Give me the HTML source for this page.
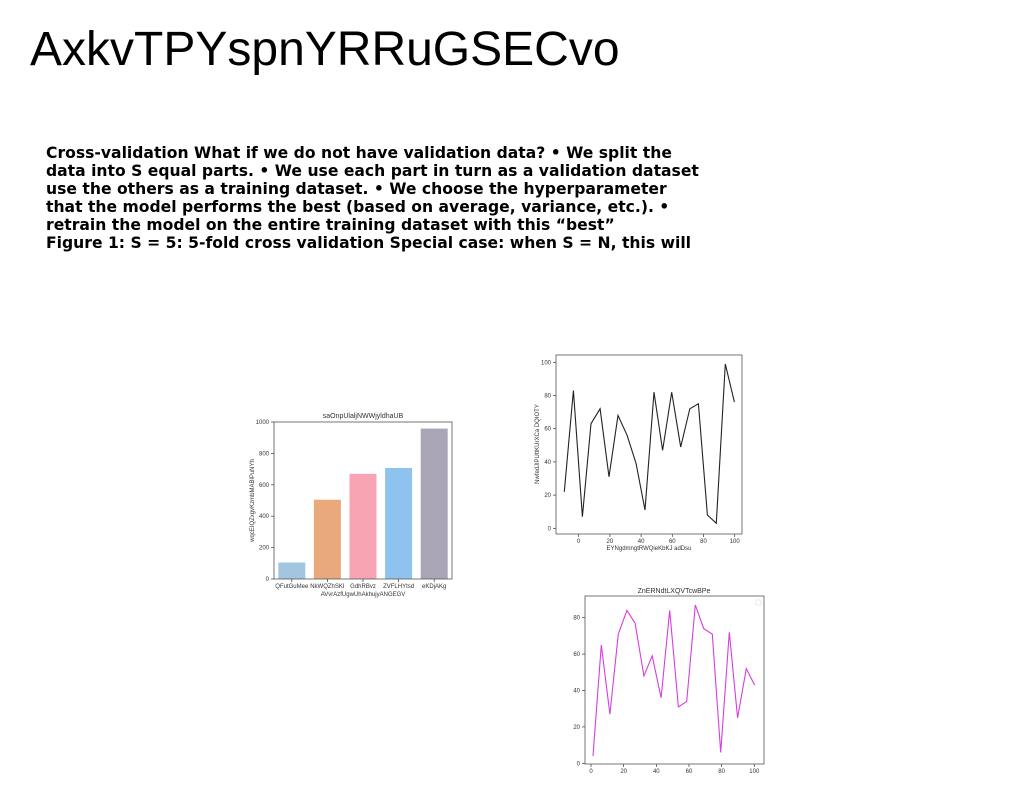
<!DOCTYPE html>
<html><head><meta charset="utf-8"><style>
body{margin:0;background:#fff;width:1024px;height:788px;overflow:hidden;position:relative;font-family:"Liberation Sans",sans-serif}
#title{position:absolute;left:30px;top:22px;font-size:48px;line-height:56px;color:#000;white-space:nowrap}
#para{position:absolute;left:46px;top:144px;font-family:"DejaVu Sans",sans-serif;font-weight:bold;font-size:15.6px;line-height:18px;color:#000}
#para div{white-space:nowrap}
svg{position:absolute;left:0;top:0}
</style></head><body>
<div id="title">AxkvTPYspnYRRuGSECvo</div>
<div id="para">
<div>Cross-validation What if we do not have validation data? • We split the</div>
<div>data into S equal parts. • We use each part in turn as a validation dataset</div>
<div>use the others as a training dataset. • We choose the hyperparameter</div>
<div>that the model performs the best (based on average, variance, etc.). •</div>
<div>retrain the model on the entire training dataset with this “best”</div>
<div>Figure 1: S = 5: 5-fold cross validation Special case: when S = N, this will</div>
</div>
<svg id="svg" width="1024" height="788" font-family="Liberation Sans, sans-serif"></svg>
<script>
const barCats=["QFutGuMee","NkWQZhSKI","GdhRBvz","ZVFLHYtsd","eKDjAKg"];
const barVals=[105,505,670,707,958];
const barColors=["#a3c6e0","#e9a97c","#f7a5b2","#8fc3ef","#aba5b8"];
const barTicks=[0,200,400,600,800,1000];
const l1x=[-9.2,-3.4,2.4,7.9,13.7,19.4,25.2,31,36.8,42.5,48.3,53.8,59.6,65.4,71.2,76.7,82.5,88.2,94,99.8];
const l1y=[22,83,7,63,72,31,68,56,39,11,82,47,82,49,72,75,8,3,99,76];
const l1xt=[0,20,40,60,80,100];
const l1yt=[0,20,40,60,80,100];
const l2x=[1.2,6.3,11.6,16.7,22,27,32.4,37.5,42.9,48.2,53.5,58.6,63.9,69,74.3,79.4,84.7,89.8,95.1,100.2];
const l2y=[4,65,27,71,84,77,48,59,36,84,31,34,87,74,71,6,72,25,52,43];
const l2xt=[0,20,40,60,80,100];
const l2yt=[0,20,40,60,80];

const svg=document.getElementById('svg');
const NS="http://www.w3.org/2000/svg";
function mk(tag,attrs,parent){const e=document.createElementNS(NS,tag);for(const k in attrs)e.setAttribute(k,attrs[k]);(parent||svg).appendChild(e);return e;}
function txt(x,y,s,size,anchor,parent,rot){const t=mk('text',{x:x,y:y,'font-size':size,fill:'#333','text-anchor':anchor||'middle'},parent);if(rot)t.setAttribute('transform','rotate(-90 '+x+' '+y+')');t.textContent=s;return t;}

// Bar chart
(function(){
 const g=mk('g',{});
 
 
 const L=274,R=452,T=422,B=579;
 const ys=v=>B-(v/1000)*(B-T);
 const step=(R-L)/5;
 barVals.forEach((v,i)=>{
  const cx=L+step*(i+0.5);
  const r=mk('rect',{x:cx-13.5,y:ys(v),width:27,height:B-ys(v),fill:barColors[i]},g);
  
  
  mk('line',{x1:cx,y1:B,x2:cx,y2:B+3,stroke:'#333','stroke-width':0.7},g);
  const t=txt(cx,588,barCats[i],6,'middle',g);
  
  
 });
 barTicks.forEach(v=>{
  mk('line',{x1:L-3,y1:ys(v),x2:L,y2:ys(v),stroke:'#333','stroke-width':0.7},g);
  const t=txt(L-5,ys(v)+2,String(v),6,'end',g);
  
  
 });
 mk('rect',{x:L,y:T,width:R-L,height:B-T,fill:'none',stroke:'#555','stroke-width':0.8},g);
 const ti=txt((L+R)/2,418,'saOnpUlaljNWWjyldhaUB',7,'middle',g);
 
 
 const xl=txt((L+R)/2,596,'AVvrAzfUgwUhAkhujyANGEGV',6,'middle',g);
 
 
 const yl=txt(254,(T+B)/2,'wqcEIQZxgvKzmbMABlPuNYh',6,'middle',g,true);
 
 
})();

function lineChart(o){
 const g=mk('g',{});
 
 
 const xs=v=>o.x0+(v-0)*o.xk, ys=v=>o.y0-v*o.yk;
 const pts=o.xs.map((x,i)=>xs(x).toFixed(1)+','+ys(o.ys[i]).toFixed(1)).join(' ');
 const p=mk('polyline',{points:pts,fill:'none',stroke:o.color,'stroke-width':1.1},g);
 
 
 o.xt.forEach(v=>{
  mk('line',{x1:xs(v),y1:o.B,x2:xs(v),y2:o.B+3,stroke:'#333','stroke-width':0.7},g);
  const t=txt(xs(v),o.B+9,String(v),6,'middle',g);
  
  
 });
 o.yt.forEach(v=>{
  mk('line',{x1:o.L-3,y1:ys(v),x2:o.L,y2:ys(v),stroke:'#333','stroke-width':0.7},g);
  const t=txt(o.L-5,ys(v)+2,String(v),6,'end',g);
  
  
 });
 mk('rect',{x:o.L,y:o.T,width:o.R-o.L,height:o.B-o.T,fill:'none',stroke:'#555','stroke-width':0.8},g);
 return {g,xs,ys};
}
(function(){
 const c=lineChart({name:'line-chart-black',L:556,R:742,T:355,B:534,x0:578.7,xk:1.56,y0:528.3,yk:1.66,xs:l1x,ys:l1y,xt:l1xt,yt:l1yt,color:'#222'});
 const xl=txt(649,550,'EYNgdmngtRWQieKbKJ adDsu',6,'middle',c.g);
 
 
 const yl=txt(539,444,'NwfedJlPUttKUrXCa DQIOTY',6,'middle',c.g,true);
 
 
})();
(function(){
 const c=lineChart({name:'line-chart-magenta',L:585,R:764,T:596,B:764,x0:591,xk:1.633,y0:763.3,yk:1.82,xs:l2x,ys:l2y,xt:l2xt,yt:l2yt,color:'#d63ee0'});
 const ti=txt(674,593,'ZnERNdtLXQVTcwBPe',7,'middle',c.g);
 
 
 const lg=mk('rect',{x:756,y:600,width:5,height:5,fill:'none',stroke:'#ddd','stroke-width':0.6},c.g);
 
 
})();
</script>
</body></html>
